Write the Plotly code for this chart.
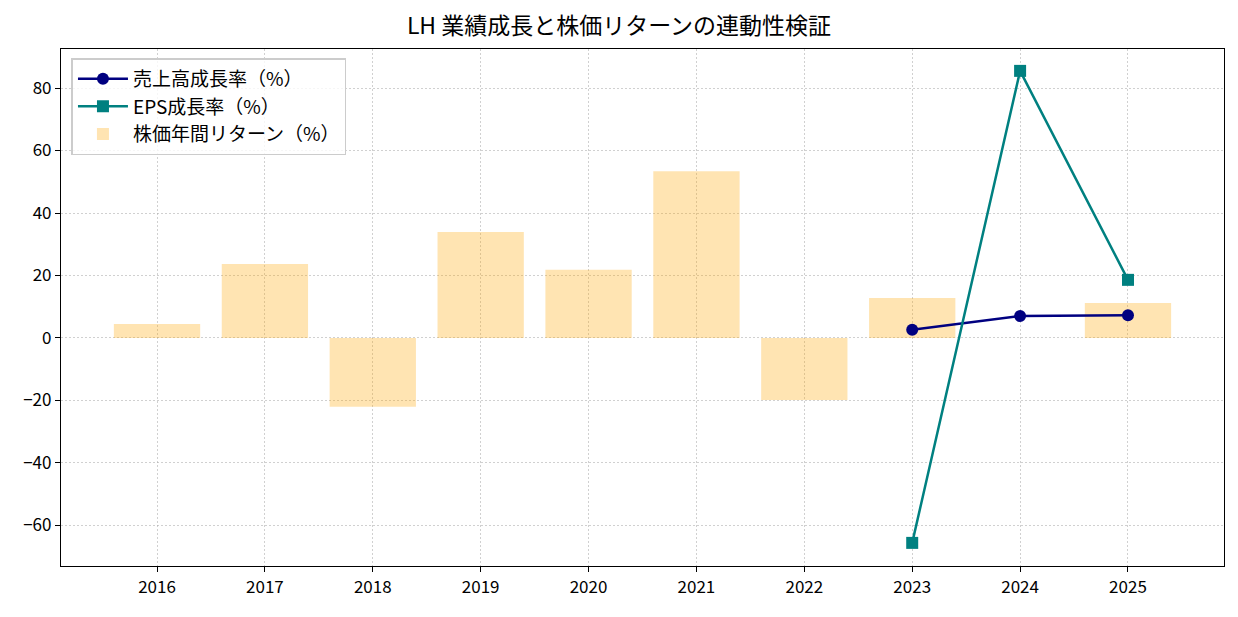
import plotly.graph_objects as go

years = ["2016", "2017", "2018", "2019", "2020", "2021", "2022", "2023", "2024", "2025"]
stock_return = [4.5, 23.7, -22.0, 33.9, 21.8, 53.4, -19.9, 12.8, None, 11.2]
rev_years = ["2023", "2024", "2025"]
revenue_growth = [2.6, 7.0, 7.3]
eps_growth = [-65.6, 85.5, 18.6]

FONT = "Noto Sans CJK JP, sans-serif"

fig = go.Figure()
fig.add_trace(go.Scatter(x=rev_years, y=revenue_growth, mode="lines+markers", name="売上高成長率（%）",
                         line=dict(color="#000080", width=2.5), marker=dict(symbol="circle", size=12, color="#000080")))
fig.add_trace(go.Scatter(x=rev_years, y=eps_growth, mode="lines+markers", name="EPS成長率（%）",
                         line=dict(color="#008080", width=2.5), marker=dict(symbol="square", size=12, color="#008080")))
fig.add_trace(go.Bar(x=years, y=stock_return, name="株価年間リターン（%）", width=0.8,
                     marker=dict(color="rgba(255,165,0,0.3)", line=dict(width=0))))

axis_common = dict(showline=True, linecolor="black", linewidth=1.2, mirror=True,
                   showgrid=True, gridcolor="rgba(170,170,170,0.55)", griddash="2px,2px", gridwidth=1.2,
                   ticks="outside", ticklen=5, tickcolor="black",
                   tickfont=dict(family=FONT, size=17, color="black"), zeroline=False)

fig.update_layout(
    width=1238, height=617,
    margin=dict(l=61, r=14, t=49, b=51),
    paper_bgcolor="white", plot_bgcolor="white",
    title=dict(text="LH 業績成長と株価リターンの連動性検証", x=0.5, xanchor="center", y=0.958, yanchor="middle",
               font=dict(family=FONT, size=23, color="black")),
    xaxis=dict(type="category", categoryorder="array", categoryarray=years, range=[-0.89, 9.89], **axis_common),
    yaxis=dict(range=[-73.0, 92.5], tickvals=[-60, -40, -20, 0, 20, 40, 60, 80],
               ticktext=["−60", "−40", "−20", "0", "20", "40", "60", "80"], **axis_common),
    legend=dict(x=0.009, y=0.982, xanchor="left", yanchor="top", bgcolor="rgba(255,255,255,0.8)",
                bordercolor="#cccccc", borderwidth=1.5, font=dict(family=FONT, size=19, color="black"),
                traceorder="normal", itemwidth=50, tracegroupgap=2),
    showlegend=True,
)

fig.write_html("out.html")
